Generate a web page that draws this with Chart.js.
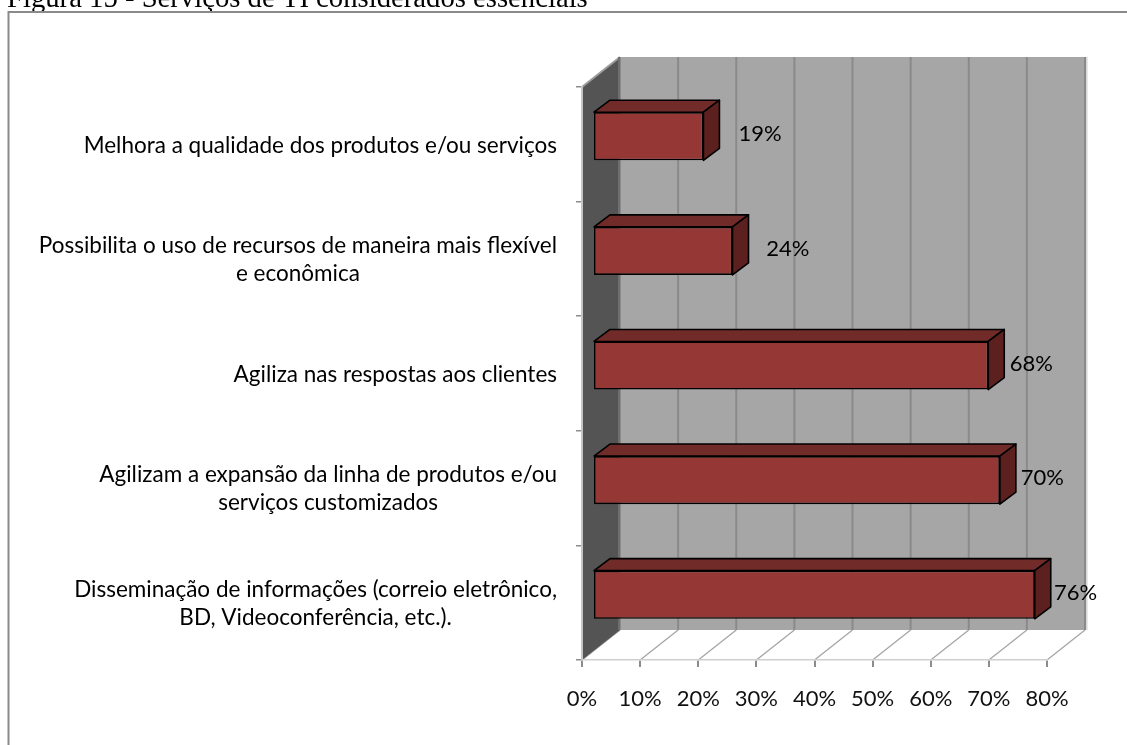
<!DOCTYPE html>
<html>
<head>
<meta charset="utf-8">
<title>Serviços de TI considerados essenciais</title>
<script src="https://cdn.jsdelivr.net/npm/chart.js@4.4.1/dist/chart.umd.min.js"></script>
<style>
  html, body { margin: 0; padding: 0; background: #fff; overflow: hidden; }
  canvas { display: block; }
</style>
</head>
<body>
<canvas id="chart" width="1127" height="745"></canvas>
<script>
// Page caption above the framed chart
const captionText = 'Figura 15 - Serviços de TI considerados essenciais';

// Categories (top to bottom), split into the lines they are printed on
const categories = [
  ['Melhora a qualidade dos produtos e/ou serviços'],
  ['Possibilita o uso de recursos de maneira mais flexível', 'e econômica'],
  ['Agiliza nas respostas aos clientes'],
  ['Agilizam a expansão da linha de produtos e/ou', 'serviços customizados'],
  ['Disseminação de informações (correio eletrônico,', 'BD, Videoconferência, etc.).']
];

// Share of respondents (%)
const values = [19, 24, 68, 70, 76];

// Horizontal axis ticks (%)
const axisMin = 0;
const axisMax = 80;
const axisStep = 10;

// --- 3D look: projection offsets in pixels ---
const WALL = { dx: 38, dy: -30 };      // depth of the back wall
const BAR_FRONT = { dx: 11, dy: -8 };  // where the bars' front faces sit
const BAR_DEPTH = { dx: 16, dy: -12 }; // thickness of each bar box

const FONT = 'Lato, "Liberation Sans", sans-serif';
const FONT_SIZE = 22;
const CATEGORY_FONT_SIZE = 22.5;

const colors = {
  wall: '#a6a6a6',
  wallGrid: '#8a8a8a',
  sideWall: '#545454',
  floorGrid: '#a3a3a3',
  barFront: '#953735',
  barTop: '#712b29',
  barSide: '#5c201f',
  outline: '#000000',
  frame: '#8a8a8a'
};

function poly(ctx, pts) {
  ctx.beginPath();
  ctx.moveTo(pts[0][0], pts[0][1]);
  for (let i = 1; i < pts.length; i++) ctx.lineTo(pts[i][0], pts[i][1]);
  ctx.closePath();
}
function seg(ctx, x1, y1, x2, y2) {
  ctx.beginPath();
  ctx.moveTo(x1, y1);
  ctx.lineTo(x2, y2);
  ctx.stroke();
}

const scene3d = {
  id: 'scene3d',
  beforeDraw(chart) {
    const { ctx, chartArea: a, scales: { x } } = chart;
    ctx.save();
    ctx.fillStyle = '#fff';
    ctx.fillRect(0, 0, chart.width, chart.height);

    // caption
    ctx.fillStyle = '#000';
    ctx.font = '28.7px "Liberation Serif", "Times New Roman", serif';
    ctx.textAlign = 'left';
    ctx.textBaseline = 'alphabetic';
    ctx.fillText(captionText, 7, 7);

    // frame around the chart object
    ctx.strokeStyle = colors.frame;
    ctx.lineWidth = 2;
    ctx.strokeRect(8.5, 12, 1400, 1000);

    const bl = a.left + WALL.dx, br = a.right + WALL.dx;
    const bt = a.top + WALL.dy, bb = a.bottom + WALL.dy;

    // back wall with vertical gridlines
    ctx.fillStyle = colors.wall;
    ctx.fillRect(bl, bt, br - bl, bb - bt);
    ctx.strokeStyle = colors.wallGrid;
    ctx.lineWidth = 2;
    x.ticks.forEach(t => {
      const px = x.getPixelForValue(t.value) + WALL.dx;
      seg(ctx, px, bt, px, bb);
    });
    ctx.strokeStyle = '#d6d6d6';
    ctx.lineWidth = 1.5;
    seg(ctx, br + 1.8, bt, br + 1.8, bb);

    // floor
    ctx.fillStyle = '#fff';
    poly(ctx, [[a.left, a.bottom], [bl, bb], [br, bb], [a.right, a.bottom]]);
    ctx.fill();
    ctx.strokeStyle = colors.floorGrid;
    ctx.lineWidth = 1.2;
    x.ticks.forEach(t => {
      const px = x.getPixelForValue(t.value);
      seg(ctx, px, a.bottom, px + WALL.dx, bb);
    });

    // left side wall
    ctx.fillStyle = colors.sideWall;
    poly(ctx, [[a.left, a.top], [bl, bt], [bl, bb], [a.left, a.bottom]]);
    ctx.fill();
    ctx.strokeStyle = '#9c9c9c';
    ctx.lineWidth = 2;
    seg(ctx, a.left, a.top, bl, bt);
    ctx.strokeStyle = '#6e6e6e';
    ctx.lineWidth = 2;
    seg(ctx, bl - 1, bt, bl - 1, bb);
    ctx.restore();
  },
  beforeDatasetsDraw(chart) {
    chart.ctx.save();
    chart.ctx.translate(BAR_FRONT.dx, BAR_FRONT.dy);
  },
  afterDatasetsDraw(chart) {
    const ctx = chart.ctx;
    const meta = chart.getDatasetMeta(0);
    ctx.lineJoin = 'round';
    meta.data.forEach(bar => {
      const { x: xe, base: xs, y, height } = bar.getProps(['x', 'base', 'y', 'height'], true);
      const top = y - height / 2, bot = y + height / 2;
      const dx = BAR_DEPTH.dx, dy = BAR_DEPTH.dy;
      ctx.lineWidth = 1.6;
      ctx.strokeStyle = colors.outline;
      // top face
      ctx.fillStyle = colors.barTop;
      poly(ctx, [[xs, top], [xs + dx, top + dy], [xe + dx, top + dy], [xe, top]]);
      ctx.fill(); ctx.stroke();
      // side face
      ctx.fillStyle = colors.barSide;
      poly(ctx, [[xe, top], [xe + dx, top + dy], [xe + dx, bot + dy], [xe, bot]]);
      ctx.fill(); ctx.stroke();
    });
    ctx.restore();

    // value labels beside each bar; the gap narrows slightly toward the far end
    const ds = chart.data.datasets[0];
    const a = chart.chartArea;
    ctx.save();
    ctx.fillStyle = '#000';
    ctx.font = FONT_SIZE + 'px ' + FONT;
    ctx.textAlign = 'center';
    ctx.textBaseline = 'middle';
    meta.data.forEach((bar, i) => {
      const { x: xe, y } = bar.getProps(['x', 'y'], true);
      const gap = 62 - 0.048 * (xe - a.left);
      ctx.fillText(ds.data[i] + '%', xe + BAR_FRONT.dx + gap, y + BAR_FRONT.dy - 2);
    });
    ctx.restore();
  },
  afterDraw(chart) {
    // category labels: each block right-aligned, its lines centred on one another
    const { ctx, chartArea: a, scales: { y } } = chart;
    ctx.save();
    ctx.fillStyle = '#000';
    ctx.font = CATEGORY_FONT_SIZE + 'px ' + FONT;
    ctx.textAlign = 'center';
    ctx.textBaseline = 'middle';
    const lineH = 28;
    const right = a.left - 25;
    chart.data.labels.forEach((lines, i) => {
      const cy = y.getPixelForTick(i);
      const w = Math.max(...lines.map(l => ctx.measureText(l).width));
      const cx = right - w / 2;
      lines.forEach((l, k) => {
        ctx.fillText(l, cx, cy + (k - (lines.length - 1) / 2) * lineH + 1);
      });
    });
    ctx.restore();
  }
};

new Chart(document.getElementById('chart'), {
  type: 'bar',
  data: {
    labels: categories,
    datasets: [{
      data: values,
      backgroundColor: colors.barFront,
      borderColor: colors.outline,
      borderWidth: 1.6,
      borderSkipped: false,
      barPercentage: 1,
      categoryPercentage: 0.42
    }]
  },
  options: {
    indexAxis: 'y',
    responsive: false,
    devicePixelRatio: 1,
    animation: false,
    layout: { padding: { top: 87, right: 80, bottom: 0, left: 0 } },
    plugins: {
      legend: { display: false },
      title: { display: false },
      tooltip: { enabled: false }
    },
    scales: {
      x: {
        min: axisMin,
        max: axisMax,
        afterFit(scale) { scale.height = 85; },
        grid: {
          drawOnChartArea: false,
          drawTicks: true,
          tickLength: 7,
          color: '#8c8c8c',
          lineWidth: 2
        },
        border: { display: true, color: '#cfcfcf', width: 1.5 },
        ticks: {
          stepSize: axisStep,
          padding: 19,
          color: '#111',
          font: { family: FONT, size: FONT_SIZE },
          callback: v => v + '%'
        }
      },
      y: {
        afterFit(scale) { scale.width = 582; },
        grid: {
          offset: true,
          drawOnChartArea: false,
          drawTicks: true,
          tickLength: 6,
          color: '#8c8c8c',
          lineWidth: 1.5
        },
        border: { display: true, color: '#c4c4c4', width: 2 },
        ticks: { display: false }
      }
    }
  },
  plugins: [scene3d]
});
</script>
</body>
</html>
